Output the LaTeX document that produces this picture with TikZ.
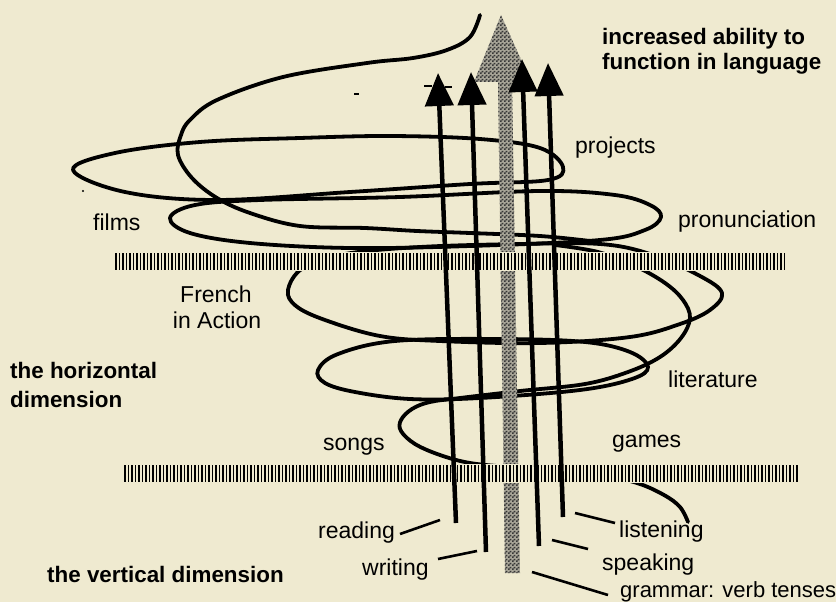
\documentclass[tikz,border=0pt]{standalone}
\usepackage{fontspec}
\setmainfont{Liberation Sans}
\usetikzlibrary{arrows.meta,patterns}
\definecolor{paper}{RGB}{239,234,208}
\definecolor{ditherbase}{RGB}{168,165,152}
\definecolor{dither}{RGB}{55,55,55}
% fine dither used for the grammar arrow
\pgfdeclarepatternformonly{finecheck}{\pgfpointorigin}{\pgfqpoint{4pt}{4pt}}{\pgfqpoint{4pt}{4pt}}{%
  \pgfpathrectangle{\pgfpointorigin}{\pgfqpoint{2pt}{2pt}}%
  \pgfpathrectangle{\pgfqpoint{2pt}{2pt}}{\pgfqpoint{2pt}{2pt}}%
  \pgfusepath{fill}}
\tikzset{
  lbl/.style={inner sep=0pt, anchor=base west, font=\fontsize{23}{27}\selectfont},
  heading/.style={inner sep=0pt, anchor=base west, font=\bfseries\fontsize{22.4}{26}\selectfont},
  coil/.style={line width=3.8pt, line cap=round, line join=round},
  skill/.style={line width=4.5pt, -{Triangle[width=28pt,length=33pt]}},
  leader/.style={line width=2.6pt},
  tick/.style={line width=1.8pt},
}
\begin{document}
\begin{tikzpicture}[x=1pt,y=-1pt]
\fill[paper] (0,0) rectangle (836,602);
\useasboundingbox (0,0) rectangle (836,602);

% ---- the spiral of activities ----
% projects turn
\draw[coil] plot[smooth cycle, tension=0.6] coordinates {(73,170) (115,153) (200,142) (300,138) (390,136) (480,139) (540,148) (563,167) (548,180) (470,184) (350,192) (217,200) (125,192)};
% pronunciation turn
\draw[coil] plot[smooth cycle, tension=0.6] coordinates {(170,218) (195,205) (260,200) (400,197) (540,191) (615,195) (650,205) (661,217) (645,230) (600,240) (470,246) (350,248) (250,243) (190,233)};
% French in Action turn
\draw[coil] plot[smooth cycle, tension=0.6] coordinates {(288,290) (303,268) (345,254) (420,247) (520,244) (600,244) (650,254) (700,276) (722,293) (710,310) (680,324) (630,337) (540,343) (440,341) (380,336) (325,320) (296,306)};
% literature turn
\draw[coil] plot[smooth cycle, tension=0.6] coordinates {(318,370) (338,354) (395,341) (500,339) (585,342) (630,352) (648,367) (632,379) (580,390) (480,398) (410,399) (355,392) (325,383)};
% lower tail, songs turn and rise to the right
\draw[coil] plot[smooth, tension=0.6] coordinates {(688,522) (680,507) (664,495) (637,483) (600,475) (555,470) (510,467) (470,463) (440,455) (415,444) (401,431) (401,420) (412,409) (430,402) (460,398) (520,391) (585,384) (628,372) (660,357) (681,338) (690,318) (683,300) (665,283) (635,266) (598,252) (555,245)};
% upper tail leaving the spiral
\draw[coil] plot[smooth, tension=0.6] coordinates {(590,241) (540,236) (470,233) (417,231) (365,228) (300,226) (250,213) (217,198) (192,178) (178,155) (181,135) (190,120) (217,100) (283,77) (367,63) (413,58) (447,50) (470,37) (480,15)};

% ---- grammar arrow (dithered grey) ----
\path[fill=ditherbase] (505,573) -- (498,82) -- (474,82) -- (501,15) -- (531,82) -- (512,82) -- (520,573) -- cycle;
\path[pattern=finecheck, pattern color=dither] (505,573) -- (498,82) -- (474,82) -- (501,15) -- (531,82) -- (512,82) -- (520,573) -- cycle;

% ---- hatched bars ----
\fill[paper] (114,252) rectangle (788,271);
\foreach \i in {0,...,191} { \draw[tick] (116+\i*3.5,253) -- ++(0,17); }
\fill[paper] (123,464) rectangle (800,483);
\foreach \i in {0,...,192} { \draw[tick] (125+\i*3.5,465) -- ++(0,17); }

% ---- the four skills ----
\coordinate (rdB) at (456,523); \coordinate (rdT) at (438,73);
\coordinate (wrB) at (486,552); \coordinate (wrT) at (471,72);
\coordinate (spB) at (539,546); \coordinate (spT) at (522,59);
\coordinate (liB) at (563,517); \coordinate (liT) at (548,63);
\draw[skill] (rdB) -- (rdT);
\draw[skill] (wrB) -- (wrT);
\draw[skill] (spB) -- (spT);
\draw[skill] (liB) -- (liT);

% small pen marks
\draw[line width=1.2pt] (424,86) -- (432,86);
\draw[line width=1.2pt] (445,87) -- (452,87);
\fill (354,93) rectangle (359,95.5);
\fill (83,191) circle (1.2);

% ---- labels ----
\node[heading] (inc1) at (602,45) {increased ability to};
\node[heading] (inc2) at (602,70) {function in language};
\node[lbl] (projects) at (575,153) {projects};
\node[lbl] (films) at (93,230) {films};
\node[lbl] (pron) at (678,227) {pronunciation};
\node[lbl, anchor=base] (fr1) at (216,302) {French};
\node[lbl, anchor=base] (fr2) at (217,328) {in Action};
\node[heading] (hz1) at (10,378) {the horizontal};
\node[heading] (hz2) at (10,407) {dimension};
\node[lbl] (lit) at (668,387) {literature};
\node[lbl] (songs) at (323,450) {songs};
\node[lbl] (games) at (612,447) {games};
\node[lbl] (reading) at (318,538) {reading};
\node[lbl] (writing) at (362,575) {writing};
\node[heading] (vert) at (47,582) {the vertical dimension};
\node[lbl] (listening) at (619,537) {listening};
\node[lbl] (speaking) at (602,570) {speaking};
\node[lbl, font=\fontsize{22}{26}\selectfont] (grammar) at (620,597) {grammar: verb tenses};

% ---- leader lines ----
\coordinate (rdL1) at (400,534); \coordinate (rdL2) at (440,520);
\coordinate (wrL1) at (438,559); \coordinate (wrL2) at (477,551);
\coordinate (liL1) at (575,513); \coordinate (liL2) at (615,523);
\coordinate (spL1) at (552,540); \coordinate (spL2) at (588,549);
\coordinate (grL1) at (532,572); \coordinate (grL2) at (608,595);
\draw[leader] (rdL1) -- (rdL2);
\draw[leader] (wrL1) -- (wrL2);
\draw[leader] (liL1) -- (liL2);
\draw[leader] (spL1) -- (spL2);
\draw[leader] (grL1) -- (grL2);
\end{tikzpicture}
\end{document}
